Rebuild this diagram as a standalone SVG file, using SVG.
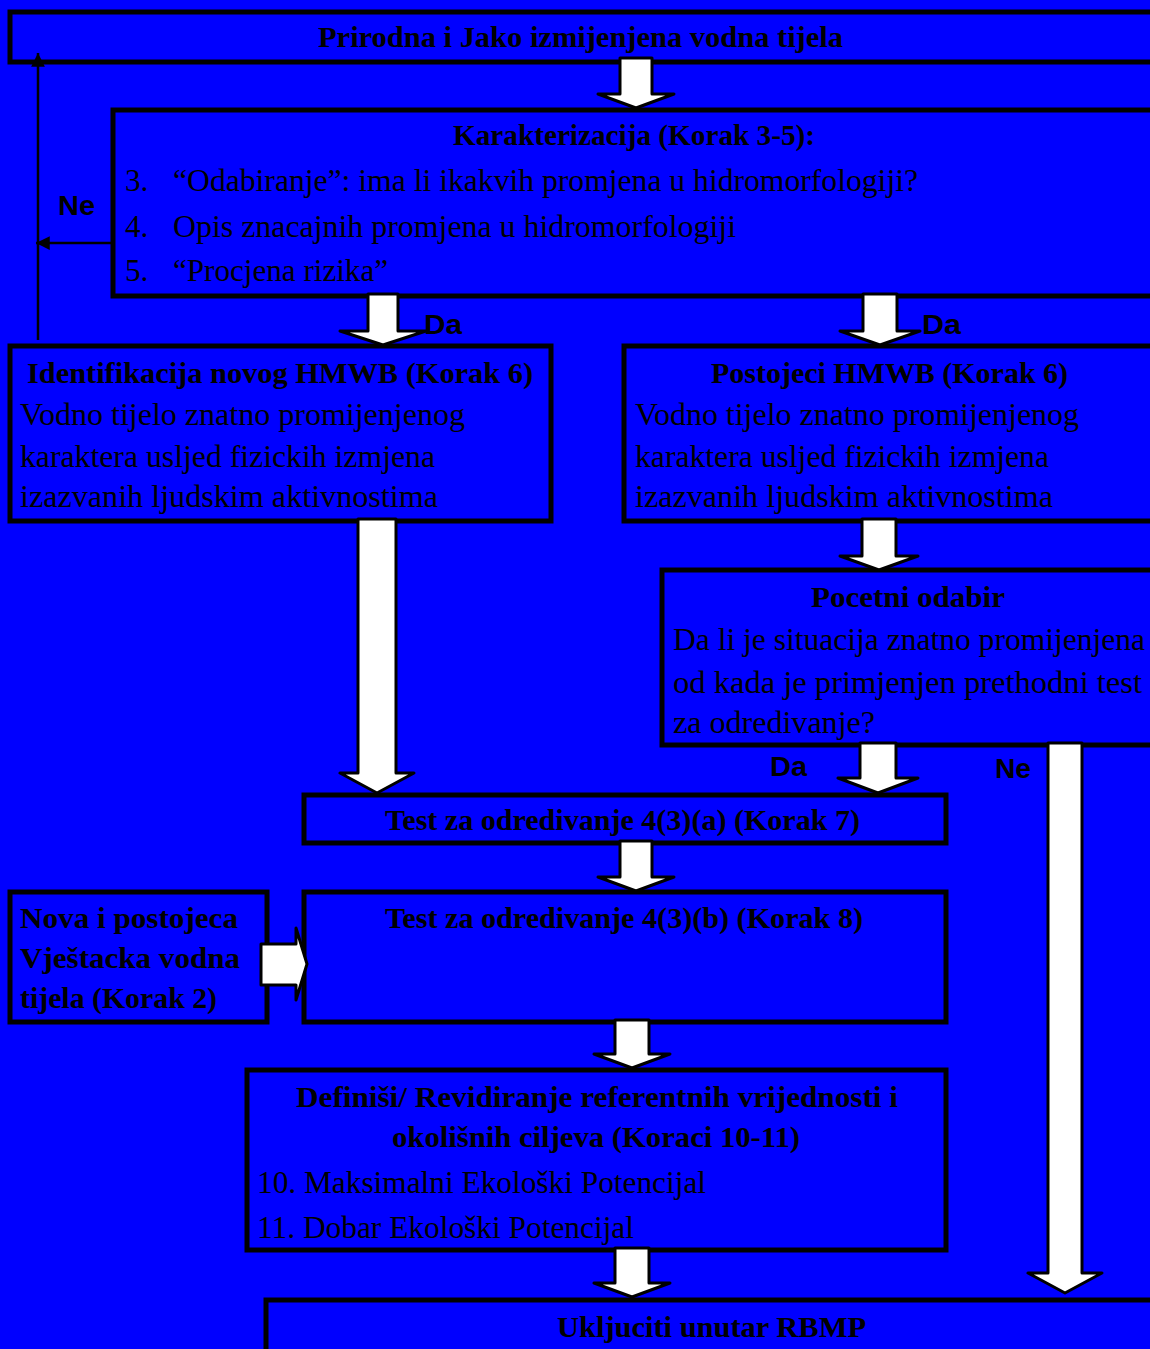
<svg xmlns="http://www.w3.org/2000/svg" width="1150" height="1349" viewBox="0 0 1150 1349">
<style>
.box{fill:#0000FF;stroke:#000;stroke-width:5}
.t{font-family:"Liberation Serif","Times New Roman",serif;font-size:31px;fill:#000}
.b{font-family:"Liberation Serif","Times New Roman",serif;font-size:30px;font-weight:bold;fill:#000}
.s{font-family:"Liberation Sans",Arial,sans-serif;font-size:28px;font-weight:bold;fill:#000}
.blk{fill:#fff;stroke:#000;stroke-width:3;stroke-linejoin:round}
.ln{stroke:#000;stroke-width:2.5;fill:none}
</style>
<defs>
<marker id="ah" viewBox="0 0 10 10" refX="10" refY="5" markerWidth="5.5" markerHeight="5.5" orient="auto" markerUnits="strokeWidth">
<path d="M0,0 L10,5 L0,10 Z" fill="#000"/>
</marker>
</defs>
<rect width="1150" height="1349" fill="#0000FF"/>
<g id="n1">
<rect class="box" x="10" y="12" width="1160" height="50"/>
<text class="b" x="318" y="47" textLength="525" lengthAdjust="spacingAndGlyphs">Prirodna i Jako izmijenjena  vodna tijela</text>
</g>
<g id="n2">
<rect class="box" x="113" y="110" width="1060" height="186"/>
<text class="b" x="453" y="145" textLength="362" lengthAdjust="spacingAndGlyphs">Karakterizacija (Korak 3-5):</text>
<text class="t" x="125" y="191">3.</text>
<text class="t" x="173" y="191" textLength="745" lengthAdjust="spacingAndGlyphs">“Odabiranje”: ima li ikakvih promjena u hidromorfologiji?</text>
<text class="t" x="125" y="237">4.</text>
<text class="t" x="173" y="237" textLength="563" lengthAdjust="spacingAndGlyphs">Opis znacajnih promjena u hidromorfologiji</text>
<text class="t" x="125" y="281">5.</text>
<text class="t" x="173" y="281" textLength="215" lengthAdjust="spacingAndGlyphs">“Procjena rizika”</text>
</g>
<g id="n3">
<rect class="box" x="10" y="346" width="541" height="175"/>
<text class="b" x="27" y="383" textLength="506" lengthAdjust="spacingAndGlyphs">Identifikacija novog HMWB (Korak 6)</text>
<text class="t" x="20" y="425" textLength="445" lengthAdjust="spacingAndGlyphs">Vodno tijelo znatno promijenjenog</text>
<text class="t" x="20" y="467" textLength="415" lengthAdjust="spacingAndGlyphs">karaktera usljed fizickih izmjena</text>
<text class="t" x="20" y="507" textLength="418" lengthAdjust="spacingAndGlyphs">izazvanih ljudskim aktivnostima</text>
</g>
<g id="n4">
<rect class="box" x="624" y="346" width="560" height="175"/>
<text class="b" x="711" y="383" textLength="357" lengthAdjust="spacingAndGlyphs">Postojeci HMWB (Korak 6)</text>
<text class="t" x="635" y="425" textLength="444" lengthAdjust="spacingAndGlyphs">Vodno tijelo znatno promijenjenog</text>
<text class="t" x="635" y="467" textLength="414" lengthAdjust="spacingAndGlyphs">karaktera usljed fizickih izmjena</text>
<text class="t" x="635" y="507" textLength="418" lengthAdjust="spacingAndGlyphs">izazvanih ljudskim aktivnostima</text>
</g>
<g id="n5">
<rect class="box" x="662" y="570" width="520" height="175"/>
<text class="b" x="811" y="607" textLength="194" lengthAdjust="spacingAndGlyphs">Pocetni odabir</text>
<text class="t" x="673" y="650" textLength="472" lengthAdjust="spacingAndGlyphs">Da li je situacija znatno promijenjena</text>
<text class="t" x="673" y="693" textLength="469" lengthAdjust="spacingAndGlyphs">od  kada je primjenjen prethodni test</text>
<text class="t" x="673" y="733" textLength="202" lengthAdjust="spacingAndGlyphs">za odredivanje?</text>
</g>
<g id="n6">
<rect class="box" x="304" y="795" width="642" height="48"/>
<text class="b" x="385" y="830" textLength="475" lengthAdjust="spacingAndGlyphs">Test za odredivanje 4(3)(a) (Korak 7)</text>
</g>
<g id="n7">
<rect class="box" x="304" y="892" width="642" height="130"/>
<text class="b" x="385" y="928" textLength="478" lengthAdjust="spacingAndGlyphs">Test za odredivanje 4(3)(b) (Korak 8)</text>
</g>
<g id="n8">
<rect class="box" x="10" y="892" width="257" height="130"/>
<text class="b" x="20" y="928" textLength="218" lengthAdjust="spacingAndGlyphs">Nova i postojeca</text>
<text class="b" x="20" y="968" textLength="220" lengthAdjust="spacingAndGlyphs">Vještacka vodna</text>
<text class="b" x="20" y="1008" textLength="197" lengthAdjust="spacingAndGlyphs">tijela  (Korak 2)</text>
</g>
<g id="n9">
<rect class="box" x="247" y="1070" width="699" height="180"/>
<text class="b" x="296" y="1107" textLength="602" lengthAdjust="spacingAndGlyphs">Definiši/ Revidiranje referentnih vrijednosti i</text>
<text class="b" x="392" y="1147" textLength="408" lengthAdjust="spacingAndGlyphs">okolišnih ciljeva (Koraci 10-11)</text>
<text class="t" x="257" y="1193" textLength="449" lengthAdjust="spacingAndGlyphs">10. Maksimalni Ekološki Potencijal</text>
<text class="t" x="257" y="1238" textLength="377" lengthAdjust="spacingAndGlyphs">11. Dobar Ekološki Potencijal</text>
</g>
<g id="n10">
<rect class="box" x="266" y="1300" width="920" height="80"/>
<text class="b" x="557" y="1337" textLength="309" lengthAdjust="spacingAndGlyphs">Ukljuciti unutar RBMP</text>
</g>
<g id="connectors">
<path class="ln" d="M38,340 L38,53" marker-end="url(#ah)"/>
<path class="ln" d="M113,243 L36,243" marker-end="url(#ah)"/>
<path class="blk" d="M620,58 L652,58 L652,94 L674,94 L636,108 L598,94 L620,94 Z"/>
<path class="blk" d="M368,294 L398,294 L398,331 L426,331 L383,345 L340,331 L368,331 Z"/>
<path class="blk" d="M863,294 L897,294 L897,331 L920,331 L880,345 L840,331 L863,331 Z"/>
<path class="blk" d="M358,519 L396,519 L396,773 L414,773 L377,793 L340,773 L358,773 Z"/>
<path class="blk" d="M862,519 L896,519 L896,556 L918,556 L879,570 L840,556 L862,556 Z"/>
<path class="blk" d="M860,743 L896,743 L896,778 L918,778 L878,793 L838,778 L860,778 Z"/>
<path class="blk" d="M1048,743 L1082,743 L1082,1273 L1102,1273 L1065,1293 L1028,1273 L1048,1273 Z"/>
<path class="blk" d="M620,841 L652,841 L652,877 L674,877 L636,891 L598,877 L620,877 Z"/>
<path class="blk" d="M615,1020 L649,1020 L649,1054 L670,1054 L632,1068 L594,1054 L615,1054 Z"/>
<path class="blk" d="M615,1248 L649,1248 L649,1283 L670,1283 L632,1297 L594,1283 L615,1283 Z"/>
<path class="blk" d="M261,944 L296,944 L296,928 L307,964 L296,1000 L296,985 L261,985 Z"/>
<text class="s" x="58" y="215" textLength="37" lengthAdjust="spacingAndGlyphs">Ne</text>
<text class="s" x="424" y="334" textLength="38" lengthAdjust="spacingAndGlyphs">Da</text>
<text class="s" x="922" y="334" textLength="39" lengthAdjust="spacingAndGlyphs">Da</text>
<text class="s" x="770" y="776" textLength="37" lengthAdjust="spacingAndGlyphs">Da</text>
<text class="s" x="995" y="778" textLength="36" lengthAdjust="spacingAndGlyphs">Ne</text>
</g>
</svg>
